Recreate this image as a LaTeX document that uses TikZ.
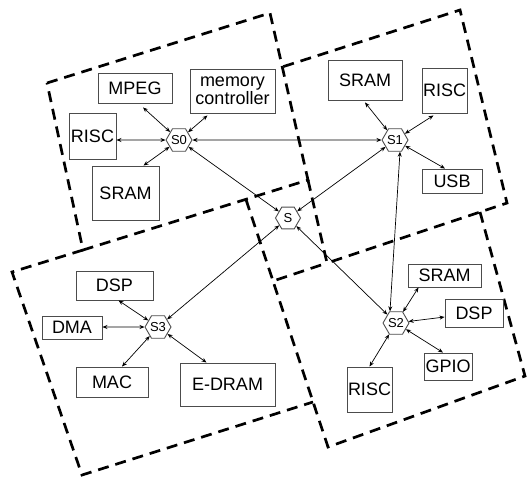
\documentclass[tikz,border=0pt]{standalone}
\usepackage{fontspec}
\setmainfont{Liberation Sans}
\usetikzlibrary{shapes.geometric,arrows.meta}
\definecolor{boxgray}{gray}{0.3}

\tikzset{
  unit/.style={draw=boxgray,line width=0.9pt,inner sep=0pt,align=center,
    font=\fontsize{18}{16}\selectfont},
  hub/.style={regular polygon,regular polygon sides=6,draw=boxgray,line width=0.9pt,
    fill=white,minimum size=25pt,inner sep=0pt,font=\fontsize{13}{13}\selectfont},
  link/.style={{Stealth[length=5pt,width=4pt]}-{Stealth[length=5pt,width=4pt]},line width=0.7pt},
  zone/.style={line width=2.7pt,dash pattern=on 11pt off 7pt,line join=miter}
}

\begin{document}
\begin{tikzpicture}[x=1pt,y=-1pt]
  \useasboundingbox (0,0) rectangle (527,477);
  % cluster corners (shared edges are drawn once)
  \coordinate (a0) at (47,83);   \coordinate (b0) at (270,13);
  \coordinate (c0) at (308,180); \coordinate (d0) at (83,250);
  \coordinate (f1) at (282,67);  \coordinate (g1) at (460,10);
  \coordinate (h1) at (507,203); \coordinate (e1) at (327,263);
  \coordinate (i2) at (273,281); \coordinate (j2) at (480,212);
  \coordinate (k2) at (525,376); \coordinate (l2) at (328,447);
  \coordinate (p3) at (12,272);  \coordinate (m3) at (246,199.5);
  \coordinate (n3) at (313,402); \coordinate (q3) at (82,475);
  \draw[zone] (a0) -- (b0) -- (c0) -- (d0) -- cycle;
  \draw[zone] (c0) -- (e1) -- (h1) -- (g1) -- (f1);
  \draw[zone] (j2) -- (k2) -- (l2) -- (i2) -- (e1);
  \draw[zone] (d0) -- (p3) -- (q3) -- (n3);
  \draw[zone] (m3) -- (i2);

  % switches
  \node[hub] (S0) at (179,140) {S0};
  \node[hub] (S1) at (395,140) {S1};
  \node[hub] (S)  at (288,218) {S};
  \node[hub] (S2) at (396,323) {S2};
  \node[hub] (S3) at (158,327) {S3};

  % cluster 0
  \node[unit,minimum width=74pt,minimum height=30pt] (mpeg) at (135,88) {MPEG};
  \node[unit,minimum width=85pt,minimum height=44pt] (mem) at (232.5,91) {memory\\controller};
  \node[unit,minimum width=47pt,minimum height=46pt] (riscA) at (92.5,136) {RISC};
  \node[unit,minimum width=67pt,minimum height=54pt] (sramA) at (125.5,193) {SRAM};
  % cluster 1
  \node[unit,minimum width=74pt,minimum height=40pt] (sramB) at (365,80) {SRAM};
  \node[unit,minimum width=45pt,minimum height=45pt] (riscB) at (444.5,90.5) {RISC};
  \node[unit,minimum width=60pt,minimum height=24pt] (usb) at (452,181) {USB};
  % cluster 2
  \node[unit,minimum width=73pt,minimum height=23pt] (sramC) at (444.5,275.5) {SRAM};
  \node[unit,minimum width=58pt,minimum height=28pt] (dspB) at (474,313) {DSP};
  \node[unit,minimum width=48pt,minimum height=27pt] (gpio) at (448,366.5) {GPIO};
  \node[unit,minimum width=45pt,minimum height=45pt] (riscC) at (369.5,389.5) {RISC};
  % cluster 3
  \node[unit,minimum width=77pt,minimum height=29pt] (dspA) at (114.5,285.5) {DSP};
  \node[unit,minimum width=60pt,minimum height=23pt] (dma) at (72,327.5) {DMA};
  \node[unit,minimum width=72pt,minimum height=30pt] (mac) at (112,382) {MAC};
  \node[unit,minimum width=95pt,minimum height=43pt] (edram) at (227.5,384.5) {E-DRAM};

  \path[link]
   ([xshift=8pt,yshift=-4pt]mpeg.south) edge (S0)
   ([xshift=-25pt,yshift=-2pt]mem.south) edge (S0)
   (S0 -| riscA.east) edge (S0)
   ([xshift=18pt]sramA.north) edge (S0)
   (S0) edge (S1)
   (S0) edge (S)
   ([yshift=-2pt]sramB.south) edge (S1)
   ([xshift=-11pt,yshift=-2pt]riscB.south) edge (S1)
   ([xshift=-7pt]usb.north) edge (S1)
   (S) edge (S1)
   ([xshift=5pt]S1.south) edge ([xshift=-6pt]S2.north)
   (S) edge (S3)
   (S) edge (S2)
   ([xshift=4pt]dspA.south) edge (S3)
   (S3 -| dma.east) edge (S3)
   ([xshift=10pt]mac.north) edge (S3)
   ([xshift=-21pt]edram.north) edge (S3)
   ([xshift=-26pt]sramC.south) edge (S2)
   ([yshift=-4pt]dspB.west) edge (S2)
   ([xshift=-5pt]gpio.north) edge (S2)
   (riscC.north) edge (S2);
\end{tikzpicture}
\end{document}
